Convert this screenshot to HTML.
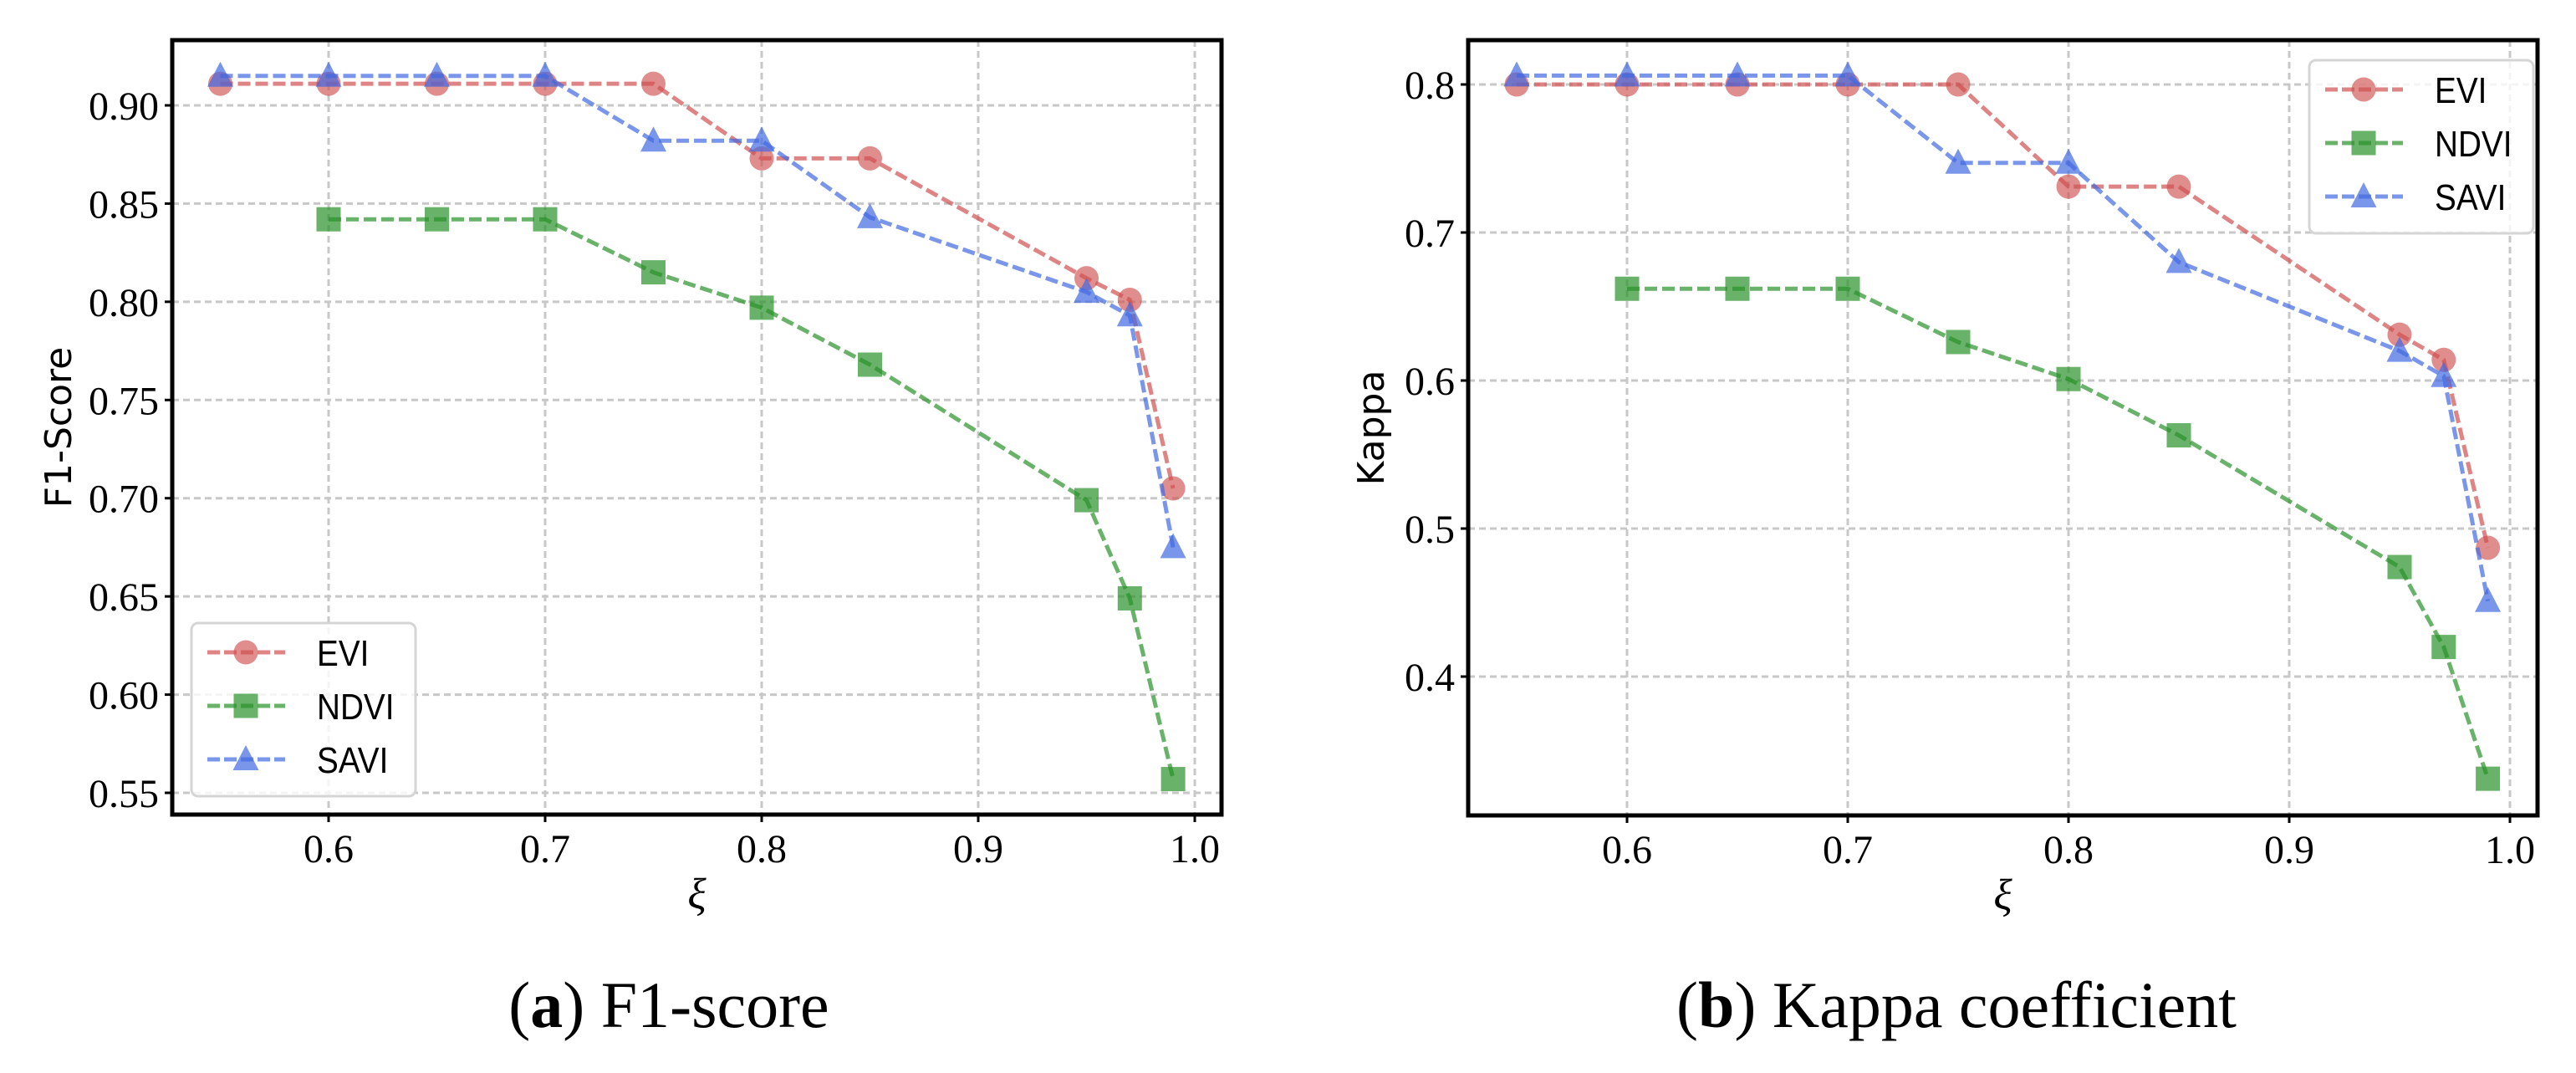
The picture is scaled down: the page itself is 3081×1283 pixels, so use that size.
<!DOCTYPE html>
<html><head><meta charset="utf-8"><style>
html,body{margin:0;padding:0;background:#fff;}
svg{display:block;}
</style></head><body>
<svg id="fig" xmlns="http://www.w3.org/2000/svg" width="3081" height="1283" viewBox="0 0 3081 1283"></svg>
<script>
const xVals = [0.55,0.6,0.65,0.7,0.75,0.8,0.85,0.95,0.97,0.99];
const xValsNdvi = [0.6,0.65,0.7,0.75,0.8,0.85,0.95,0.97,0.99];
const f1Evi = [0.911,0.911,0.911,0.911,0.911,0.873,0.873,0.812,0.801,0.705];
const f1Ndvi = [0.842,0.842,0.842,0.815,0.797,0.768,0.699,0.649,0.557];
const f1Savi = [0.915,0.915,0.915,0.915,0.882,0.882,0.843,0.805,0.793,0.675];
const kEvi = [0.800,0.800,0.800,0.800,0.800,0.731,0.731,0.631,0.614,0.487];
const kNdvi = [0.662,0.662,0.662,0.626,0.601,0.563,0.474,0.420,0.331];
const kSavi = [0.806,0.806,0.806,0.806,0.747,0.747,0.680,0.620,0.603,0.451];
const xTicks = [0.6,0.7,0.8,0.9,1.0];
const xTickLabels = ["0.6","0.7","0.8","0.9","1.0"];
const f1Ticks = [0.55,0.60,0.65,0.70,0.75,0.80,0.85,0.90];
const f1TickLabels = ["0.55","0.60","0.65","0.70","0.75","0.80","0.85","0.90"];
const kTicks = [0.4,0.5,0.6,0.7,0.8];
const kTickLabels = ["0.4","0.5","0.6","0.7","0.8"];
const seriesNames = ["EVI","NDVI","SAVI"];

const NS = "http://www.w3.org/2000/svg";
const svg = document.getElementById('fig');
function mk(tag, attrs, parent){
  const e = document.createElementNS(NS, tag);
  for (const k in attrs) e.setAttribute(k, attrs[k]);
  (parent||svg).appendChild(e);
  return e;
}
const COL = {EVI:"#d05050", NDVI:"#2a912a", SAVI:"#4169e1"};
const SHAPE = {EVI:"circle", NDVI:"square", SAVI:"triangle"};

function marker(g, shape, cx, cy, color, name){
  let e;
  if (shape==="circle") e = mk('circle',{cx:cx,cy:cy,r:14.5,fill:color,'fill-opacity':0.65},g);
  else if (shape==="square") e = mk('rect',{x:cx-14.5,y:cy-14.5,width:29,height:29,fill:color,'fill-opacity':0.7},g);
  else e = mk('polygon',{points:`${cx},${cy-17} ${cx+15.5},${cy+13} ${cx-15.5},${cy+13}`,fill:color,'fill-opacity':0.7},g);
  
  
  return e;
}

function panel(cfg){
  const {L,T,R,B,x0,xs,y0,ys,yTicks,yLabels,ylabel,ylabelX,series,legend,caption,capX,id} = cfg;
  const X = v => x0 + (v-0.55)*xs;
  const Y = v => y0 - (v-yTicks[0])*ys;
  const g = mk('g',{});
  
  
  xTicks.forEach((t,i)=>{
    const l = mk('line',{x1:X(t),x2:X(t),y1:T,y2:B,stroke:'#c8c8c8','stroke-width':3,'stroke-dasharray':'8 5'},g);
    
    
  });
  yTicks.forEach((t,i)=>{
    const l = mk('line',{x1:L,x2:R,y1:Y(t),y2:Y(t),stroke:'#c8c8c8','stroke-width':3,'stroke-dasharray':'8 5'},g);
    
    
  });
  series.forEach(s=>{
    const sg = mk('g',{},g);
    
    
    const pts = s.y.map((v,i)=>X(s.x[i])+','+Y(v)).join(' ');
    const pl = mk('polyline',{points:pts,fill:'none',stroke:COL[s.name],'stroke-opacity':0.7,'stroke-width':5,'stroke-dasharray':'15 6'},sg);
    
    
    s.y.forEach((v,i)=> marker(sg, SHAPE[s.name], X(s.x[i]), Y(v), COL[s.name], s.name.toLowerCase()+'-point'));
  });
  const fr = mk('rect',{x:L,y:T,width:R-L,height:B-T,fill:'none',stroke:'#000','stroke-width':5},g);
  
  
  xTicks.forEach((t,i)=>{
    mk('line',{x1:X(t),x2:X(t),y1:B,y2:B+9,stroke:'#000','stroke-width':3},g);
    const tx = mk('text',{x:X(t),y:B+57,'text-anchor':'middle','font-family':'"Liberation Serif",serif','font-size':48},g);
    tx.textContent = xTickLabels[i];
    
    
  });
  yTicks.forEach((t,i)=>{
    mk('line',{x1:L-9,x2:L,y1:Y(t),y2:Y(t),stroke:'#000','stroke-width':3},g);
    const tx = mk('text',{x:L-16,y:Y(t)+17,'text-anchor':'end','font-family':'"Liberation Serif",serif','font-size':48},g);
    tx.textContent = yLabels[i];
    
    
  });
  const xl = mk('text',{x:(L+R)/2,y:B+112,'text-anchor':'middle','font-family':'"Liberation Serif",serif','font-style':'italic','font-size':52},g);
  xl.textContent = 'ξ';
  
  
  const yl = mk('text',{x:0,y:0,'text-anchor':'middle','font-family':'"DejaVu Sans","Liberation Sans",sans-serif','font-size':44,transform:`translate(${ylabelX},${(T+B)/2}) rotate(-90)`},g);
  yl.textContent = ylabel;
  
  
  const lg = mk('g',{},g);
  
  
  mk('rect',{x:legend.x,y:legend.y,width:268,height:207,rx:8,fill:'#fff','fill-opacity':0.8,stroke:'#d5d5d5','stroke-width':3},lg);
  seriesNames.forEach((n,i)=>{
    const ey = legend.y + 35 + i*64;
    const eg = mk('g',{},lg);
    
    
    mk('line',{x1:legend.x+19,x2:legend.x+112,y1:ey,y2:ey,stroke:COL[n],'stroke-opacity':0.7,'stroke-width':5,'stroke-dasharray':'15 5'},eg);
    marker(eg, SHAPE[n], legend.x+65, ey, COL[n], 'legend-marker');
    const t = mk('text',{x:legend.x+150,y:ey+16,'font-family':'"Liberation Sans",sans-serif','font-size':44,transform:`translate(${legend.x+150},${ey}) scale(0.88,1) translate(${-(legend.x+150)},${-ey})`},eg);
    t.textContent = n;
  });
  const cp = mk('text',{x:capX,y:1228,'text-anchor':'middle','font-family':'"Liberation Serif",serif','font-size':78},svg);
  cp.innerHTML = caption;
  
  
}

panel({id:'f1', L:206,T:48,R:1461,B:974, x0:263.5, xs:2590, y0:948, ys:2348.6,
  yTicks:f1Ticks, yLabels:f1TickLabels, ylabel:'F1-Score', ylabelX:85,
  series:[{name:'EVI',x:xVals,y:f1Evi},{name:'NDVI',x:xValsNdvi,y:f1Ndvi},{name:'SAVI',x:xVals,y:f1Savi}],
  legend:{x:229,y:745}, caption:'(<tspan font-weight="bold">a</tspan>) F1-score', capX:800});
panel({id:'kappa', L:1756,T:48,R:3035,B:975, x0:1814, xs:2640, y0:809, ys:1770,
  yTicks:kTicks, yLabels:kTickLabels, ylabel:'Kappa', ylabelX:1655,
  series:[{name:'EVI',x:xVals,y:kEvi},{name:'NDVI',x:xValsNdvi,y:kNdvi},{name:'SAVI',x:xVals,y:kSavi}],
  legend:{x:2762,y:72}, caption:'(<tspan font-weight="bold">b</tspan>) Kappa coefficient', capX:2340});
</script>
</body></html>
